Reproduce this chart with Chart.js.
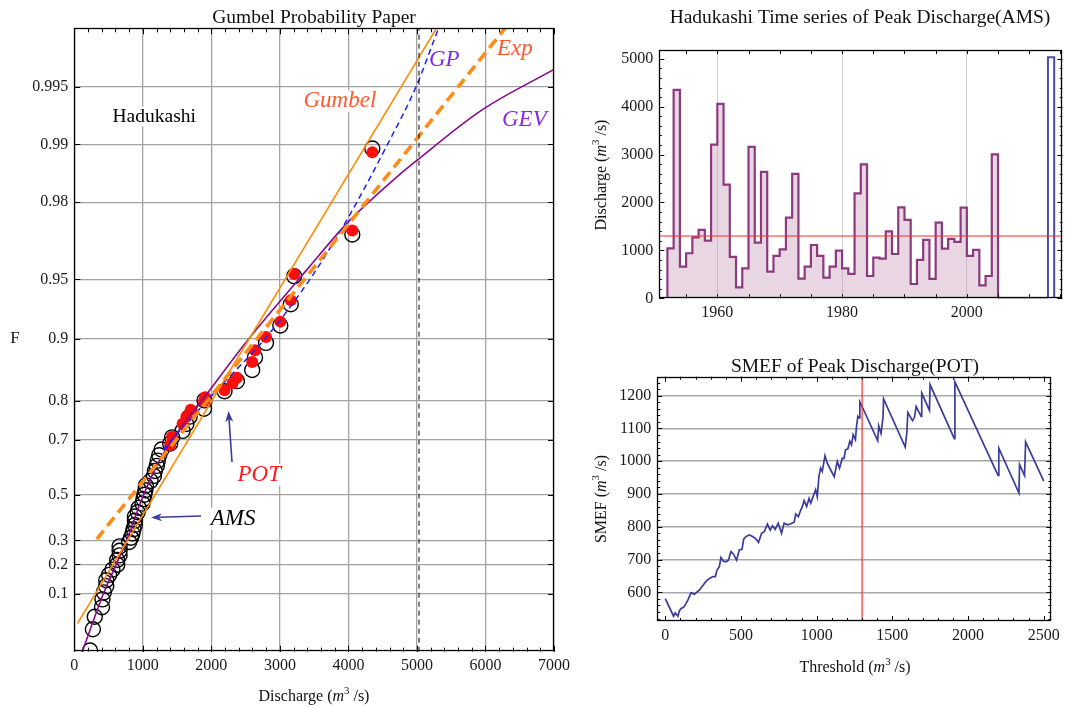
<!DOCTYPE html>
<html>
<head>
<meta charset="utf-8">
<script src="https://cdn.jsdelivr.net/npm/chart.js@4.4.0/dist/chart.umd.min.js"></script>
<style>
  html, body { margin: 0; padding: 0; background: #fff; }
  body { width: 1065px; height: 708px; position: relative; overflow: hidden; }
  canvas { position: absolute; }
</style>
</head>
<body>
<canvas id="gumbel" width="580" height="708" style="left:0;top:0"></canvas>
<canvas id="series" width="485" height="340" style="left:580px;top:0"></canvas>
<canvas id="smef" width="485" height="368" style="left:580px;top:340px"></canvas>
<script>
// ---- data ----
// annual maximum series (AMS), Hadukashi
const amsYears = [1952,1953,1954,1955,1956,1957,1958,1959,1960,1961,1962,1963,1964,1965,1966,1967,1968,1969,1970,1971,1972,1973,1974,1975,1976,1977,1978,1979,1980,1981,1982,1983,1984,1985,1986,1987,1988,1989,1990,1991,1992,1993,1994,1995,1996,1997,1998,1999,2000,2001,2002,2003,2004];
const amsPeak = [1044,4349,661,940,1273,1427,1204,3208,4057,2373,863,230,626,3159,1162,2637,557,884,1023,1684,2596,411,661,1113,884,431,661,995,626,508,2192,2797,466,849,828,1399,925,1900,1635,299,800,1218,404,1580,1037,1239,1176,1893,884,1009,271,466,3006];
const floodYear = 2013;
const floodPeak = 5030;
const threshold = 1300;

// plotting positions of the sorted AMS (non-exceedance F)
const amsF = [0.0105,0.0294,0.0482,0.0670,0.0858,0.1047,0.1235,0.1423,0.1611,0.1800,0.1988,0.2176,0.2364,0.2553,0.2741,0.2929,0.3117,0.3306,0.3494,0.3682,0.3870,0.4059,0.4247,0.4435,0.4623,0.4812,0.5000,0.5188,0.5377,0.5565,0.5753,0.5941,0.6130,0.6318,0.6506,0.6694,0.6883,0.7071,0.7259,0.7447,0.7636,0.7824,0.8012,0.8200,0.8389,0.8577,0.8765,0.8953,0.9142,0.9330,0.9518,0.9706,0.9895];

// peaks over threshold (POT)
const potQ = [1399,1427,1580,1635,1700,1893,1910,2192,2310,2373,2596,2637,2797,3006,3159,3208,4057,4349];
const potF = [0.684,0.709,0.745,0.763,0.780,0.800,0.808,0.822,0.835,0.845,0.870,0.886,0.902,0.918,0.936,0.953,0.972,0.989];

// fitted distributions
const gumbelQ = [47, 5438];
const gumbelF = [0.0376, 0.998];
const expQ = [327, 6487];
const expF = [0.305, 0.998];
const gpQ = [1290, 2078, 2808, 3430, 3975, 4570, 4986, 5316, 5414];
const gpF = [0.668, 0.822, 0.9025, 0.9495, 0.9752, 0.99, 0.995, 0.99754, 0.998];
const gevQ = [108, 423, 764, 1010, 1303, 1976, 2535, 3386, 3998, 4753, 5014, 5950, 7000];
const gevF = [0.009, 0.1, 0.3, 0.5, 0.657, 0.822, 0.899, 0.955, 0.9747, 0.9857, 0.9880, 0.9934, 0.99595];

const fTicks = [0.1, 0.2, 0.3, 0.5, 0.7, 0.8, 0.9, 0.95, 0.98, 0.99, 0.995];

// SMEF (sample mean excess function) of POT
const smefThreshold = [0,55,66,83,94,105,121,134,149,171,193,226,270,292,314,331,342,357,368,384,401,417,434,450,471,489,507,518,533,555,577,599,616,636,654,675,693,708,726,746,768,785,807,829,851,862,879,895,906,917,934,950,961,976,993,1004,1015,1026,1037,1055,1070,1092,1116,1136,1151,1169,1180,1191,1206,1219,1230,1241,1256,1263,1272,1280,1285,1300,1403,1410,1425,1438,1442,1585,1596,1602,1633,1646,1657,1690,1694,1745,1749,1909,1913,2198,2203,2336,2340,2373,2380,2500];
const smefValue = [581,527,537,527,544,551,554,563,576,599,594,607,634,642,648,648,668,678,706,695,693,698,724,717,698,729,731,762,770,775,770,763,752,780,785,808,790,803,792,811,780,811,806,809,814,839,831,851,862,880,862,887,872,892,913,892,953,979,969,1017,994,974,953,999,979,1009,1008,1035,1038,1061,1050,1081,1066,1106,1137,1132,1181,1167,1063,1108,1085,1134,1190,1043,1090,1149,1124,1134,1167,1137,1208,1155,1234,1069,1242,957,1040,903,990,956,1059,939];

// ---- helpers ----
const SERIF = '"Liberation Serif", "Times New Roman", serif';
const font = (size, style) => (style ? style + ' ' : '') + size + 'px ' + SERIF;
const gum = F => -Math.log(-Math.log(F));
const pts = (xs, fs) => xs.map((x, i) => ({ x: x, y: gum(fs[i]) }));
const xy = (xs, ys) => xs.map((x, i) => ({ x: x, y: ys[i] }));
const steps = (from, to, step) => { const a = []; for (let v = from; v <= to + 1e-9; v += step) a.push(v); return a; };

function drawParts(ctx, parts, x, y, align, angle) {
  ctx.save();
  ctx.translate(x, y);
  if (angle) ctx.rotate(angle);
  ctx.textBaseline = 'alphabetic';
  ctx.textAlign = 'left';
  let w = 0;
  parts.forEach(p => { ctx.font = p.font; w += ctx.measureText(p.t).width; });
  let cx = align === 'center' ? -w / 2 : 0;
  parts.forEach(p => {
    ctx.font = p.font;
    ctx.fillStyle = p.color || '#111';
    ctx.fillText(p.t, cx, p.dy || 0);
    cx += ctx.measureText(p.t).width;
  });
  ctx.restore();
}

function unitTitle(label, size) {
  return [
    { t: label + ' (', font: font(size) },
    { t: 'm', font: font(size, 'italic') },
    { t: '3', font: font(size * 0.68), dy: -size * 0.42 },
    { t: ' /s)', font: font(size) }
  ];
}

function arrow(ctx, x1, y1, x2, y2, color) {
  const a = Math.atan2(y2 - y1, x2 - x1);
  const hl = 11, hw = 4;
  ctx.save();
  ctx.strokeStyle = color; ctx.fillStyle = color; ctx.lineWidth = 1.6;
  ctx.beginPath();
  ctx.moveTo(x1, y1);
  ctx.lineTo(x2 - Math.cos(a) * hl * 0.7, y2 - Math.sin(a) * hl * 0.7);
  ctx.stroke();
  ctx.beginPath();
  ctx.moveTo(x2, y2);
  ctx.lineTo(x2 - Math.cos(a) * hl + Math.sin(a) * hw, y2 - Math.sin(a) * hl - Math.cos(a) * hw);
  ctx.lineTo(x2 - Math.cos(a) * hl * 0.7, y2 - Math.sin(a) * hl * 0.7);
  ctx.lineTo(x2 - Math.cos(a) * hl - Math.sin(a) * hw, y2 - Math.sin(a) * hl + Math.cos(a) * hw);
  ctx.closePath();
  ctx.fill();
  ctx.restore();
}

// frame + inward tick marks
const frame = {
  id: 'frame',
  afterDraw(chart, args, opts) {
    const ctx = chart.ctx, a = chart.chartArea;
    ctx.save();
    ctx.strokeStyle = '#000';
    ctx.lineWidth = 1;
    (opts.marks || []).forEach(m => {
      const s = chart.scales[m.axis];
      ctx.beginPath();
      m.values.forEach(v => {
        const p = Math.round(s.getPixelForValue(v)) + 0.5;
        if (s.isHorizontal()) {
          ctx.moveTo(p, a.bottom); ctx.lineTo(p, a.bottom - m.len);
          ctx.moveTo(p, a.top); ctx.lineTo(p, a.top + m.len);
        } else {
          ctx.moveTo(a.left, p); ctx.lineTo(a.left + m.len, p);
          ctx.moveTo(a.right, p); ctx.lineTo(a.right - m.len, p);
        }
      });
      ctx.stroke();
    });
    ctx.lineWidth = 1.3;
    ctx.strokeRect(Math.round(a.left) + 0.5, Math.round(a.top) + 0.5, Math.round(a.right - a.left) - 1, Math.round(a.bottom - a.top) - 1);
    ctx.restore();
  }
};

// titles and axis titles
const texts = {
  id: 'texts',
  afterDraw(chart, args, opts) {
    (opts.items || []).forEach(it => drawParts(chart.ctx, it.parts, it.x, it.y, it.align || 'center', it.angle || 0));
  }
};

// in-plot labels with white boxes and arrows (drawn under the data)
const notes = {
  id: 'notes',
  beforeDatasetsDraw(chart, args, opts) {
    const ctx = chart.ctx;
    (opts.labels || []).forEach(l => {
      ctx.save();
      ctx.font = l.font;
      const w = ctx.measureText(l.t).width;
      ctx.fillStyle = '#fff';
      ctx.fillRect(l.x - 1, l.y - l.h, w + 2, l.h + 5);
      ctx.fillStyle = l.color;
      ctx.textBaseline = 'alphabetic';
      ctx.fillText(l.t, l.x, l.y);
      ctx.restore();
    });
    (opts.arrows || []).forEach(r => arrow(ctx, r[0], r[1], r[2], r[3], '#3a3a9c'));
  }
};

const tickFont = { family: SERIF, size: 16 };
const tickColor = '#1a1a1a';
const base = { animation: false, responsive: false, events: [] };

// ---- Gumbel probability paper ----
const yMin = -1.531, yMax = 6.004;
new Chart(document.getElementById('gumbel'), {
  type: 'scatter',
  data: {
    datasets: [
      { data: [{ x: floodPeak, y: yMin }, { x: floodPeak, y: yMax }], showLine: true, pointRadius: 0, borderColor: '#000', borderWidth: 1, borderDash: [5, 4] },
      { data: pts(gumbelQ, gumbelF), showLine: true, pointRadius: 0, borderColor: '#ff8a00', borderWidth: 1.6 },
      { data: pts(expQ, expF), showLine: true, pointRadius: 0, borderColor: '#ff8c1a', borderWidth: 3.6, borderDash: [11, 6] },
      { data: pts(gpQ, gpF), showLine: true, pointRadius: 0, borderColor: '#1a22ff', borderWidth: 1.5, borderDash: [6, 4], cubicInterpolationMode: 'monotone' },
      { data: pts(gevQ, gevF), showLine: true, pointRadius: 0, borderColor: '#880a8a', borderWidth: 1.6, cubicInterpolationMode: 'monotone' },
      { data: pts(potQ, potF), pointRadius: 6, backgroundColor: '#ff0d0d', borderWidth: 0 },
      { data: pts([...amsPeak].sort((a, b) => a - b), amsF), pointRadius: 7.5, backgroundColor: 'rgba(0,0,0,0)', borderColor: '#000', borderWidth: 1.4 }
    ]
  },
  options: Object.assign({}, base, {
    layout: { padding: { left: 4.3, right: 26, top: 28.3, bottom: 26.3 } },
    plugins: {
      legend: { display: false }, tooltip: { enabled: false },
      frame: { marks: [
        { axis: 'x', values: steps(0, 7000, 200), len: 4 },
        { axis: 'x', values: steps(0, 7000, 1000), len: 6 },
        { axis: 'y', values: fTicks.map(gum), len: 6 }
      ] },
      texts: { items: [
        { parts: [{ t: 'Gumbel Probability Paper', font: font(19.5) }], x: 314, y: 22.5 },
        { parts: unitTitle('Discharge', 16), x: 314, y: 701 },
        { parts: [{ t: 'F', font: font(17) }], x: 15, y: 343 }
      ] },
      notes: {
        labels: [
          { t: 'Hadukashi', x: 112.5, y: 121.5, h: 15, font: font(19.5), color: '#000' },
          { t: 'Gumbel', x: 303.5, y: 107.3, h: 17, font: font(23, 'italic'), color: '#ff5a2e' },
          { t: 'GP', x: 429, y: 66, h: 17, font: font(23, 'italic'), color: '#7a2cf6' },
          { t: 'Exp', x: 497, y: 55, h: 17, font: font(23, 'italic'), color: '#ff5a2e' },
          { t: 'GEV', x: 502, y: 126, h: 17, font: font(23, 'italic'), color: '#8a2be2' },
          { t: 'POT', x: 237.5, y: 480.7, h: 17, font: font(23, 'italic'), color: '#ff1a1a' },
          { t: 'AMS', x: 210.7, y: 525, h: 17, font: font(23, 'italic'), color: '#000' }
        ],
        arrows: [[201, 516, 151, 517.5], [232, 462, 228.5, 411]]
      }
    },
    scales: {
      x: {
        type: 'linear', min: 0, max: 7000,
        afterFit: s => { s.height = 30; },
        afterBuildTicks: s => { s.ticks = steps(0, 7000, 1000).map(v => ({ value: v })); },
        ticks: { font: tickFont, color: tickColor, padding: 4, autoSkip: false, maxRotation: 0, callback: v => String(v) },
        grid: { color: '#a3a3a3', lineWidth: 1.3, drawTicks: false },
        border: { display: false }
      },
      y: {
        type: 'linear', min: yMin, max: yMax,
        afterFit: s => { s.width = 70; },
        afterBuildTicks: s => { s.ticks = fTicks.map(f => ({ value: gum(f) })); },
        ticks: { font: tickFont, color: tickColor, padding: 6, autoSkip: false, callback: (v, i) => String(fTicks[i]) },
        grid: { color: '#a3a3a3', lineWidth: 1.3, drawTicks: false },
        border: { display: false }
      }
    }
  }),
  plugins: [notes, frame, texts]
});

// ---- time series of AMS ----
const tsMin = 1950.7, tsMax = 2015.3, qMax = 5183;
new Chart(document.getElementById('series'), {
  type: 'scatter',
  data: {
    datasets: [
      { data: [{ x: tsMin, y: threshold }, { x: tsMax, y: threshold }], showLine: true, pointRadius: 0, borderColor: '#ff2a2a', borderWidth: 1.2 },
      { data: [{ x: amsYears[amsYears.length - 1] + 1, y: 0 }, { x: floodYear, y: 0 }], showLine: true, pointRadius: 0, borderColor: '#2c2c5c', borderWidth: 2 },
      { data: [{ x: floodYear, y: 0 }, { x: floodYear, y: floodPeak }, { x: floodYear + 1, y: 0 }], showLine: true, stepped: 'before', pointRadius: 0, borderColor: '#4b4bab', borderWidth: 2 },
      {
        data: [{ x: amsYears[0], y: 0 }].concat(xy(amsYears, amsPeak), [{ x: amsYears[amsYears.length - 1] + 1, y: 0 }]),
        showLine: true, stepped: 'before', pointRadius: 0,
        borderColor: '#8c3a7e', borderWidth: 2.2,
        fill: 'origin', backgroundColor: 'rgba(200, 160, 188, 0.42)'
      }
    ]
  },
  options: Object.assign({}, base, {
    layout: { padding: { left: 34.3, right: 2.7, top: 50, bottom: 11.7 } },
    plugins: {
      legend: { display: false }, tooltip: { enabled: false },
      frame: { marks: [
        { axis: 'x', values: steps(1955, 2015, 5), len: 4 },
        { axis: 'y', values: steps(0, 5000, 200), len: 2.5 },
        { axis: 'y', values: steps(0, 5000, 1000), len: 5 }
      ] },
      texts: { items: [
        { parts: [{ t: 'Hadukashi Time series of Peak Discharge(AMS)', font: font(19.5) }], x: 280, y: 23 },
        { parts: unitTitle('Discharge', 16), x: 26, y: 175, angle: -Math.PI / 2 }
      ] }
    },
    scales: {
      x: {
        type: 'linear', min: tsMin, max: tsMax,
        afterFit: s => { s.height = 30; },
        afterBuildTicks: s => { s.ticks = [1960, 1980, 2000].map(v => ({ value: v })); },
        ticks: { font: tickFont, color: tickColor, padding: 5, autoSkip: false, maxRotation: 0, callback: v => String(v) },
        grid: { color: '#cfcfcf', lineWidth: 1, drawTicks: false },
        border: { display: false }
      },
      y: {
        type: 'linear', min: 0, max: qMax,
        afterFit: s => { s.width = 45; },
        afterBuildTicks: s => { s.ticks = steps(0, 5000, 1000).map(v => ({ value: v })); },
        ticks: { font: tickFont, color: tickColor, padding: 6, autoSkip: false, callback: v => String(v) },
        grid: { display: false, drawTicks: false },
        border: { display: false }
      }
    }
  }),
  plugins: [frame, texts]
});

// ---- SMEF ----
const thMin = -52.6, thMax = 2550, sMin = 512.4, sMax = 1258;
new Chart(document.getElementById('smef'), {
  type: 'scatter',
  data: {
    datasets: [
      { data: [{ x: threshold, y: sMin }, { x: threshold, y: sMax }], showLine: true, pointRadius: 0, borderColor: '#ff2a2a', borderWidth: 1.2 },
      { data: xy(smefThreshold, smefValue), showLine: true, pointRadius: 0, borderColor: '#3b3b9c', borderWidth: 1.7 }
    ]
  },
  options: Object.assign({}, base, {
    layout: { padding: { left: 32.3, right: 11.7, top: 36.7, bottom: 57 } },
    plugins: {
      legend: { display: false }, tooltip: { enabled: false },
      frame: { marks: [
        { axis: 'x', values: steps(0, 2500, 100), len: 3 },
        { axis: 'x', values: steps(0, 2500, 500), len: 5 },
        { axis: 'y', values: steps(520, 1240, 20), len: 3 },
        { axis: 'y', values: steps(600, 1200, 100), len: 5 }
      ] },
      texts: { items: [
        { parts: [{ t: 'SMEF of Peak Discharge(POT)', font: font(19.5) }], x: 275, y: 32.3 },
        { parts: unitTitle('Threshold', 16), x: 275, y: 331.7 },
        { parts: unitTitle('SMEF', 16), x: 26, y: 159, angle: -Math.PI / 2 }
      ] }
    },
    scales: {
      x: {
        type: 'linear', min: thMin, max: thMax,
        afterFit: s => { s.height = 30; },
        afterBuildTicks: s => { s.ticks = steps(0, 2500, 500).map(v => ({ value: v })); },
        ticks: { font: tickFont, color: tickColor, padding: 5, autoSkip: false, maxRotation: 0, callback: v => String(v) },
        grid: { display: false, drawTicks: false },
        border: { display: false }
      },
      y: {
        type: 'linear', min: sMin, max: sMax,
        afterFit: s => { s.width = 45; },
        afterBuildTicks: s => { s.ticks = steps(600, 1200, 100).map(v => ({ value: v })); },
        ticks: { font: tickFont, color: tickColor, padding: 6, autoSkip: false, callback: v => String(v) },
        grid: { color: '#a8a8a8', lineWidth: 1.5, drawTicks: false },
        border: { display: false }
      }
    }
  }),
  plugins: [frame, texts]
});
</script>
</body>
</html>
